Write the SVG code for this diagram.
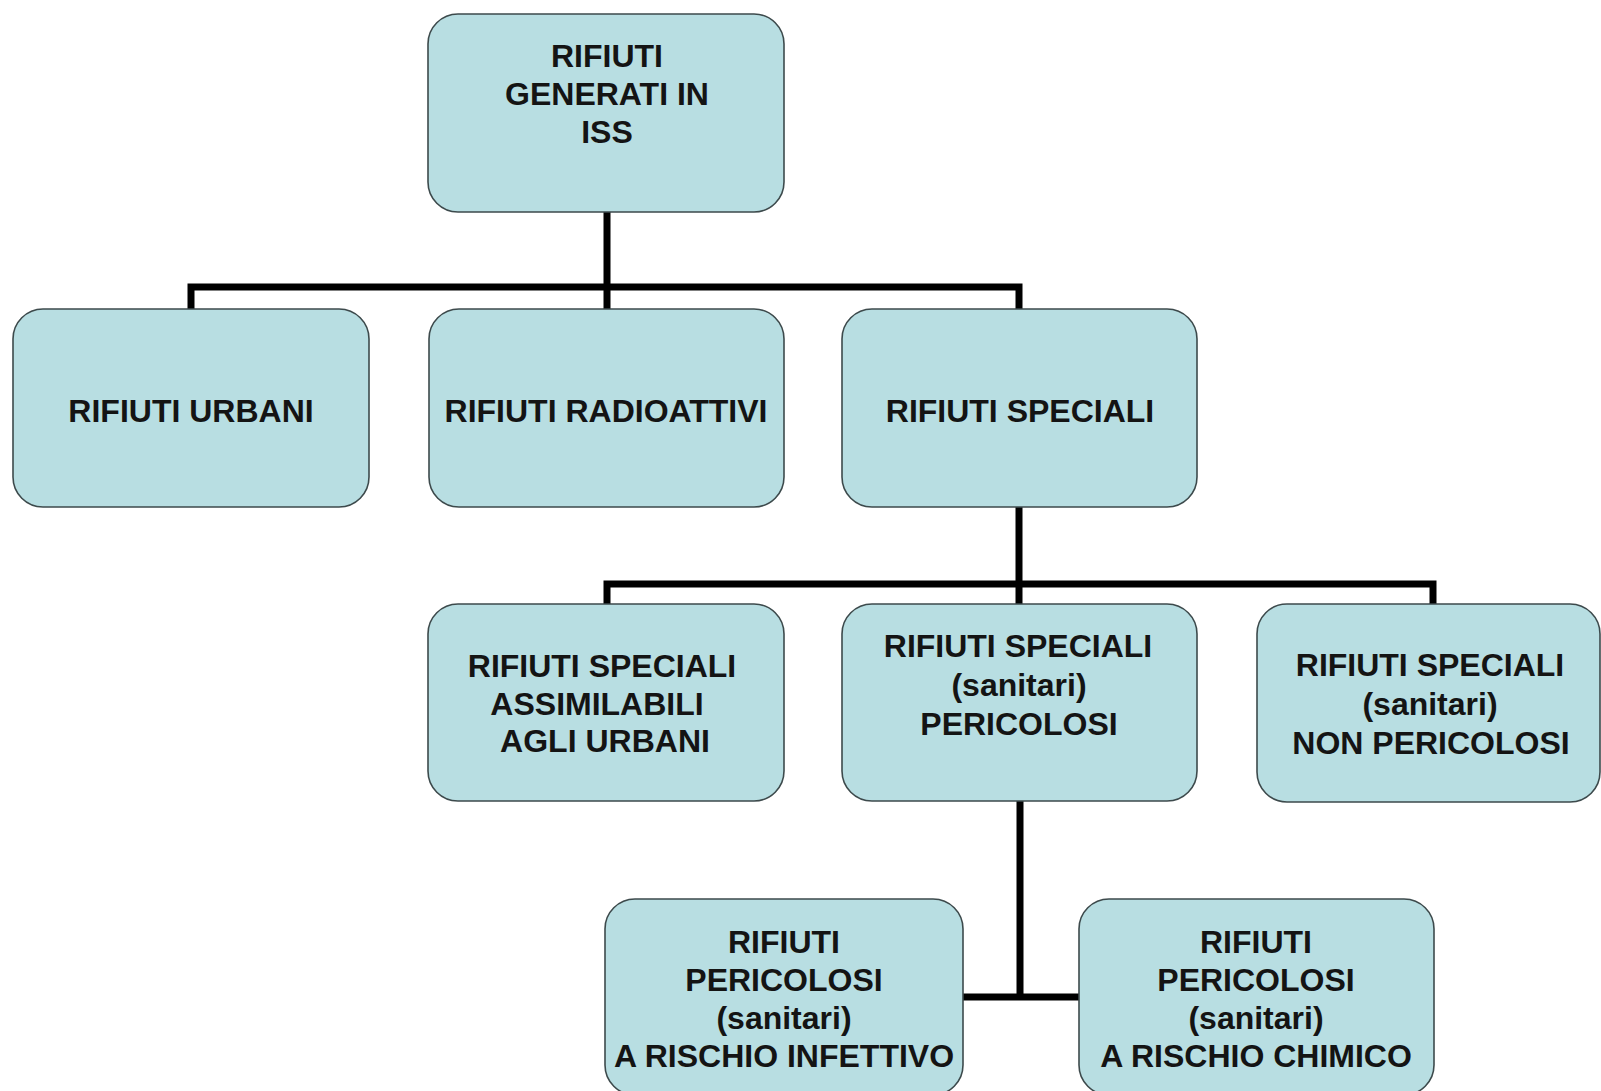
<svg xmlns="http://www.w3.org/2000/svg" width="1601" height="1091" viewBox="0 0 1601 1091">
<style>
.box{fill:#b8dee2;stroke:#3d4a4c;stroke-width:1.6}
.t{font-family:"Liberation Sans",Arial,sans-serif;font-weight:bold;font-size:32px;fill:#141414;text-anchor:middle}
.c{fill:none;stroke:#000;stroke-width:7;stroke-linecap:butt;stroke-linejoin:miter}
</style>
<rect width="1601" height="1091" fill="#ffffff"/>
<g id="connectors">
<path class="c" d="M607 212V287M191 309V287H1019V309M607 287V309"/>
<path class="c" d="M1019 507V604M607 604V584H1433V604"/>
<path class="c" d="M1020 801V997M963 997H1079"/>
</g>
<g id="n-root">
<rect class="box" x="428" y="14" width="356" height="198" rx="30"/>
<text class="t" x="607" y="67">RIFIUTI</text>
<text class="t" x="607" y="105">GENERATI IN</text>
<text class="t" x="607" y="143">ISS</text>
</g>
<g id="n-urbani">
<rect class="box" x="13" y="309" width="356" height="198" rx="30"/>
<text class="t" x="191" y="422">RIFIUTI URBANI</text>
</g>
<g id="n-radio">
<rect class="box" x="429" y="309" width="355" height="198" rx="30"/>
<text class="t" x="606" y="422">RIFIUTI RADIOATTIVI</text>
</g>
<g id="n-speciali">
<rect class="box" x="842" y="309" width="355" height="198" rx="30"/>
<text class="t" x="1020" y="422">RIFIUTI SPECIALI</text>
</g>
<g id="n-assimilabili">
<rect class="box" x="428" y="604" width="356" height="197" rx="30"/>
<text class="t" x="602" y="677">RIFIUTI SPECIALI</text>
<text class="t" x="597" y="715">ASSIMILABILI</text>
<text class="t" x="605" y="752">AGLI URBANI</text>
</g>
<g id="n-pericolosi">
<rect class="box" x="842" y="604" width="355" height="197" rx="30"/>
<text class="t" x="1018" y="657">RIFIUTI SPECIALI</text>
<text class="t" x="1019" y="696">(sanitari)</text>
<text class="t" x="1019" y="735">PERICOLOSI</text>
</g>
<g id="n-nonpericolosi">
<rect class="box" x="1257" y="604" width="343" height="198" rx="30"/>
<text class="t" x="1430" y="676">RIFIUTI SPECIALI</text>
<text class="t" x="1430" y="715">(sanitari)</text>
<text class="t" x="1431" y="754">NON PERICOLOSI</text>
</g>
<g id="n-infettivo">
<rect class="box" x="605" y="899" width="358" height="196" rx="30"/>
<text class="t" x="784" y="953">RIFIUTI</text>
<text class="t" x="784" y="991">PERICOLOSI</text>
<text class="t" x="784" y="1029">(sanitari)</text>
<text class="t" x="784" y="1067">A RISCHIO INFETTIVO</text>
</g>
<g id="n-chimico">
<rect class="box" x="1079" y="899" width="355" height="196" rx="30"/>
<text class="t" x="1256" y="953">RIFIUTI</text>
<text class="t" x="1256" y="991">PERICOLOSI</text>
<text class="t" x="1256" y="1029">(sanitari)</text>
<text class="t" x="1256" y="1067">A RISCHIO CHIMICO</text>
</g>
</svg>
